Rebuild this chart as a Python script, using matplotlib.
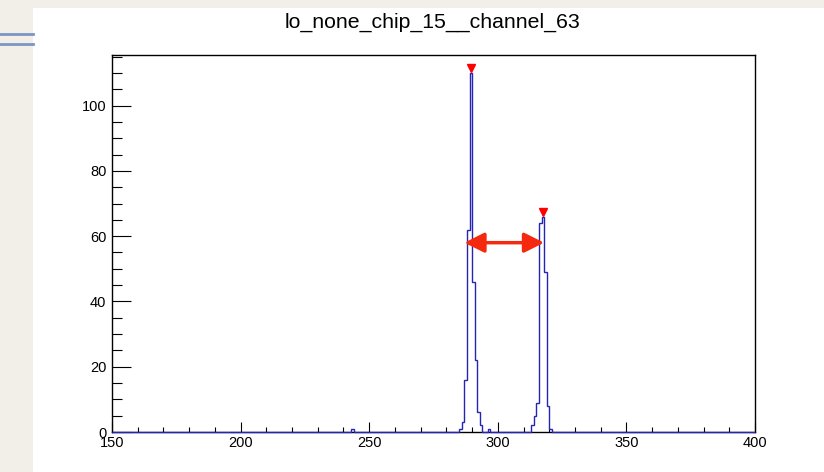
import matplotlib
matplotlib.use('Agg')
import matplotlib.pyplot as plt
from matplotlib.patches import Rectangle
from matplotlib.lines import Line2D
from matplotlib.ticker import MultipleLocator
import numpy as np

title = 'lo_none_chip_15__channel_63'

# histogram: 1-unit bins from 150 to 400, only the non-empty bins listed
bin_low = [243, 285, 286, 287, 288, 289, 290, 291, 292, 293, 296,
           313, 314, 315, 316, 317, 318, 319, 320]
counts = [1, 1, 3, 16, 62, 110, 46, 22, 6, 2, 1,
          2, 5, 9, 64, 66, 49, 8, 1]

# found peaks (red markers)
peak_x = [289.5, 317.5]
peak_y = [110, 66]

# distance arrow between the peaks
arrow_x = [287.0, 318.0]
arrow_y = 58

x_lo, x_hi = 150, 400
edges = np.arange(x_lo, x_hi + 1, 1)
values = np.zeros(len(edges) - 1)
for b, c in zip(bin_low, counts):
    values[b - x_lo] = c

plt.rcParams['font.family'] = ['Liberation Sans', 'DejaVu Sans']

fig = plt.figure(figsize=(8.24, 4.72), dpi=100)
fig.patch.set_facecolor('#f2eee8')
# white slide canvas + the blue rule on the left
fig.patches.append(Rectangle((33 / 824, 0), 1, 1 - 8 / 472, transform=fig.transFigure,
                             facecolor='white', edgecolor='none', zorder=-10))
for yy in [34, 44]:
    fig.lines.append(Line2D([0, 33 / 824], [1 - yy / 472] * 2, transform=fig.transFigure,
                            color='#7b96c4', lw=2, zorder=-5))

ax = fig.add_axes([112 / 824, 40 / 472, 643 / 824, 377 / 472])
ax.stairs(values, edges, color='#2525b5', lw=1.0, clip_on=False, zorder=3)
ax.plot(peak_x, [y + 1.5 for y in peak_y], 'v', color='red', ms=6, zorder=4, clip_on=False)
ax.annotate('', xy=(arrow_x[1], arrow_y), xytext=(arrow_x[0], arrow_y),
            arrowprops=dict(arrowstyle='<|-|>,head_length=0.6,head_width=0.3',
                            color='#f4290f', lw=2.5, mutation_scale=20,
                            shrinkA=0, shrinkB=0), zorder=5)

ax.set_xlim(x_lo, x_hi)
ax.set_ylim(0, 115.5)
ax.xaxis.set_major_locator(MultipleLocator(50))
ax.xaxis.set_minor_locator(MultipleLocator(10))
ax.yaxis.set_major_locator(MultipleLocator(20))
ax.yaxis.set_minor_locator(MultipleLocator(5))
ax.tick_params(axis='x', which='major', direction='in', length=7, width=0.8, pad=3, labelsize=10.5)
ax.tick_params(axis='x', which='minor', direction='in', length=3.6, width=0.8)
ax.tick_params(axis='y', which='major', direction='in', length=14, width=0.8, pad=4, labelsize=10.5)
ax.tick_params(axis='y', which='minor', direction='in', length=7, width=0.8)
for s in ax.spines.values():
    s.set_linewidth(1.0)

fig.text(0.525, 1 - 22 / 472, title, ha='center', va='center', fontsize=15.3)

fig.savefig('out.png', dpi=100)
